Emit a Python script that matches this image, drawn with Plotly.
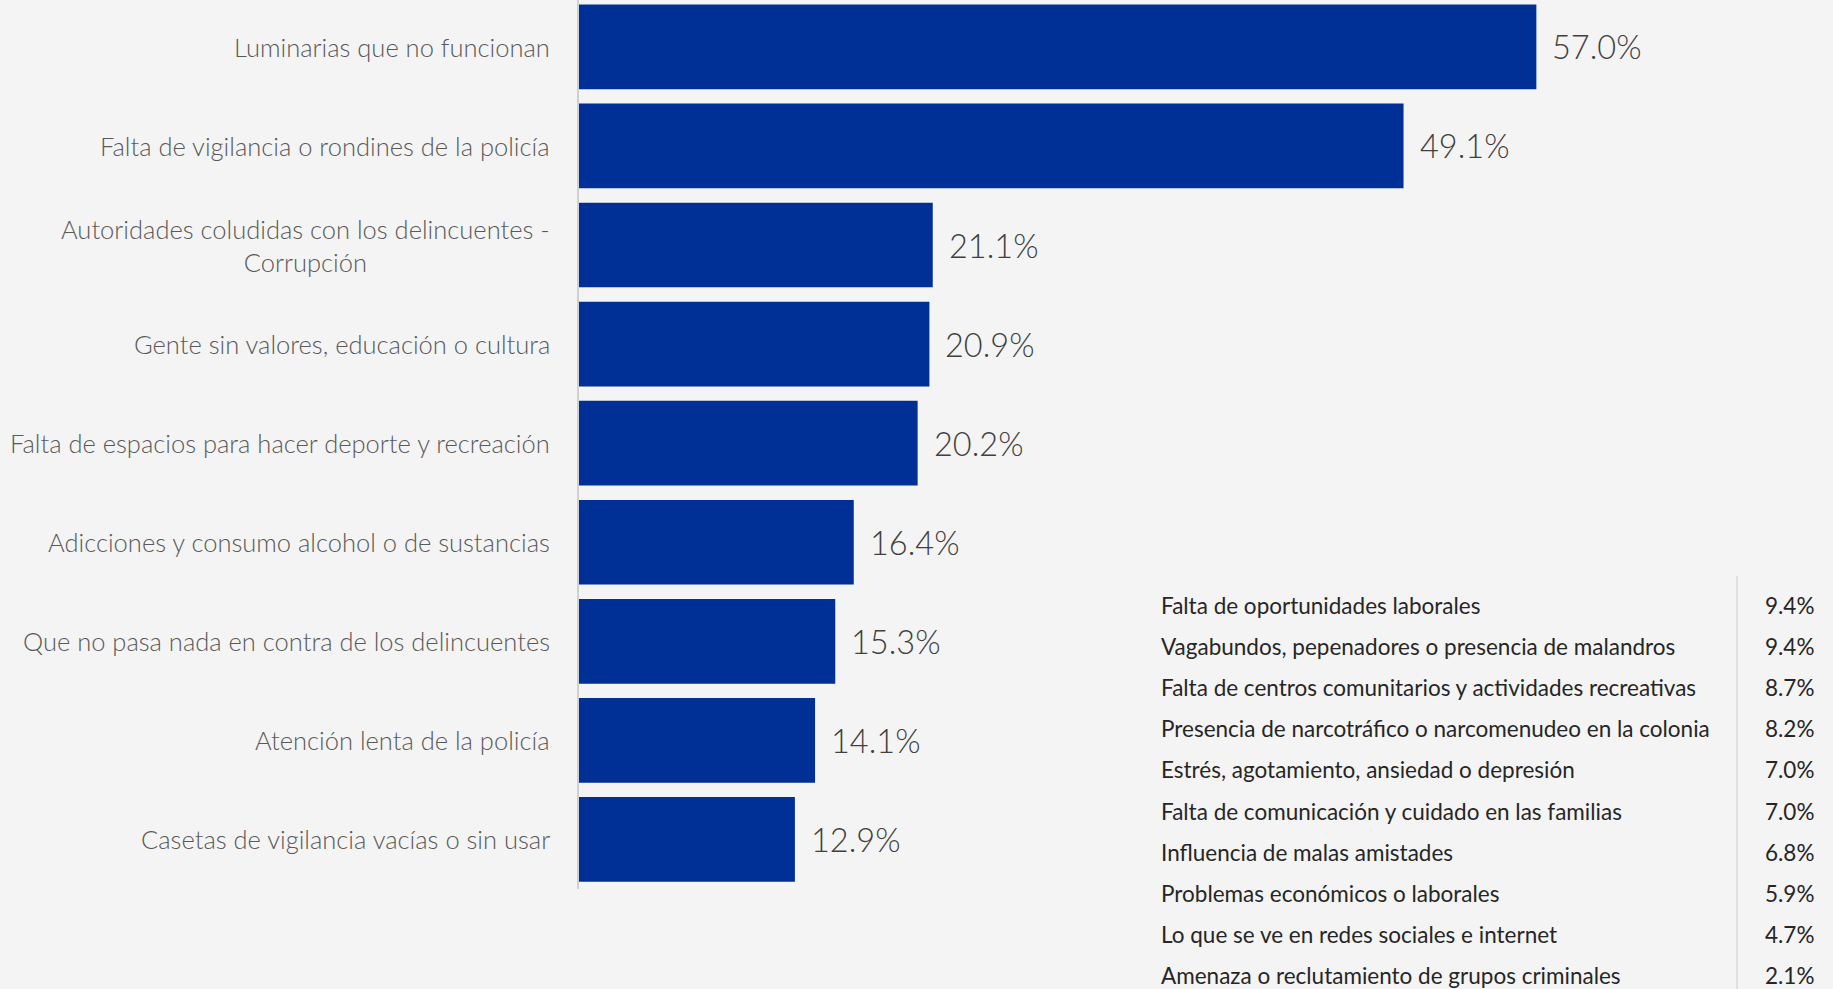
import plotly.graph_objects as go

categories = [
    "Luminarias que no funcionan",
    "Falta de vigilancia o rondines de la policía",
    "Autoridades coludidas con los delincuentes -<br>Corrupción",
    "Gente sin valores, educación o cultura",
    "Falta de espacios para hacer deporte y recreación",
    "Adicciones y consumo alcohol o de sustancias",
    "Que no pasa nada en contra de los delincuentes",
    "Atención lenta de la policía",
    "Casetas de vigilancia vacías o sin usar",
]
values = [57.0, 49.1, 21.1, 20.9, 20.2, 16.4, 15.3, 14.1, 12.9]

other_labels = [
    "Falta de oportunidades laborales",
    "Vagabundos, pepenadores o presencia de malandros",
    "Falta de centros comunitarios y actividades recreativas",
    "Presencia de narcotráfico o narcomenudeo en la colonia",
    "Estrés, agotamiento, ansiedad o depresión",
    "Falta de comunicación y cuidado en las familias",
    "Influencia de malas amistades",
    "Problemas económicos o laborales",
    "Lo que se ve en redes sociales e internet",
    "Amenaza o reclutamiento de grupos criminales",
]
other_values = [9.4, 9.4, 8.7, 8.2, 7.0, 7.0, 6.8, 5.9, 4.7, 2.1]

W, H = 1833, 989
ML, MR, MT, MB = 577.5, 0, 0, 100
plot_w = W - ML - MR
plot_h = H - MT - MB
px_per_pct = 16.82
xmax = plot_w / px_per_pct

BG = "#f4f4f4"
BAR = "#002f95"
FONT = "Lato"

fig = go.Figure()
fig.add_trace(go.Bar(
    y=list(range(len(categories))),
    x=values,
    orientation="h",
    marker=dict(color=BAR, line=dict(width=0)),
    width=0.855,
    hoverinfo="skip",
))

annotations = []
for i, (c, v) in enumerate(zip(categories, values)):
    annotations.append(dict(
        x=0, y=i, xref="paper", yref="y", text=c, showarrow=False,
        xanchor="right", yanchor="middle", xshift=-26, align="center",
        font=dict(family=FONT, size=25.5, color="#595959", weight=300),
    ))
    annotations.append(dict(
        x=v, y=i, xref="x", yref="y", text=f"{v:.1f}%", showarrow=False,
        xanchor="left", yanchor="middle", xshift=14,
        font=dict(family=FONT, size=32.5, color="#404040", weight=300),
    ))

def px2paper_x(px):
    return (px - ML) / plot_w

def px2paper_y(py):
    return (H - MB - py) / plot_h

row0, pitch = 605.5, 41.1
for i, (lab, v) in enumerate(zip(other_labels, other_values)):
    py = row0 + pitch * i
    annotations.append(dict(
        x=px2paper_x(1159), y=px2paper_y(py), xref="paper", yref="paper",
        text=lab, showarrow=False, xanchor="left", yanchor="middle",
        font=dict(family=FONT, size=22.5, color="#262626"),
    ))
    annotations.append(dict(
        x=px2paper_x(1816), y=px2paper_y(py), xref="paper", yref="paper",
        text=f"{v:.1f}%", showarrow=False, xanchor="right", yanchor="middle",
        font=dict(family=FONT, size=22.5, color="#262626"),
    ))

shapes = [
    dict(type="line", xref="paper", yref="paper",
         x0=px2paper_x(1737), x1=px2paper_x(1737),
         y0=px2paper_y(576), y1=px2paper_y(989),
         line=dict(color="#d9d9d9", width=1.5)),
    dict(type="line", xref="paper", yref="paper",
         x0=0, x1=0, y0=0, y1=1,
         line=dict(color="#d0d0d0", width=2)),
]

fig.update_layout(
    width=W, height=H,
    margin=dict(l=ML, r=MR, t=MT, b=MB, pad=0),
    paper_bgcolor=BG, plot_bgcolor=BG,
    showlegend=False,
    xaxis=dict(range=[0, xmax], visible=False, fixedrange=True),
    yaxis=dict(range=[8.5, -0.473], visible=False, fixedrange=True),
    annotations=annotations,
    shapes=shapes,
)

fig.write_html(
    "out.html",
    config={"displayModeBar": False},
    post_script="document.body.style.margin='0';document.body.style.background='#f4f4f4';document.body.style.overflow='hidden';",
)
